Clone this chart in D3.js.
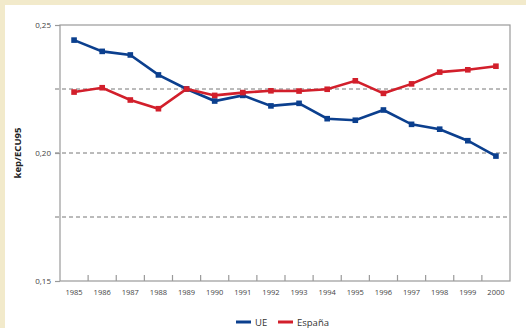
<!DOCTYPE html>
<html><head><meta charset="utf-8">
<script src="https://cdn.jsdelivr.net/npm/d3@7"></script>
<style>body{margin:0;background:#f2eacb;}svg{display:block;}</style>
</head><body>
<svg id="c" width="526" height="328"></svg>
<script>
const years = ["1985","1986","1987","1988","1989","1990","1991","1992","1993","1994","1995","1996","1997","1998","1999","2000"];
const ue = [0.2441,0.2397,0.2383,0.2305,0.2250,0.2203,0.2225,0.2184,0.2194,0.2134,0.2128,0.2168,0.2112,0.2093,0.2048,0.1988];
const espana = [0.2238,0.2255,0.2207,0.2173,0.2250,0.2225,0.2236,0.2243,0.2242,0.2249,0.2282,0.2233,0.2270,0.2316,0.2325,0.2339];
const yTicks = [0.15,0.20,0.25];
const gridVals = [0.175,0.20,0.225];
const seriesNames = ["UE","España"];
const colors = ["#0b3f8e","#d21f2b"];

const svg = d3.select("#c");
svg.append("rect").attr("x",0).attr("y",0).attr("width",526).attr("height",328).attr("fill","#f2eacb");
svg.append("rect").attr("x",5).attr("y",5).attr("width",521).attr("height",323).attr("fill","#fff");

const L=60,R=510,T=25,B=281;
const x = d3.scaleBand().domain(years).range([L,R]);
const y = d3.scaleLinear().domain([0.15,0.25]).range([B,T]);

// gridlines
svg.append("g").selectAll("line").data(gridVals).join("line")
  .attr("x1",55).attr("x2",R).attr("y1",d=>y(d)).attr("y2",d=>y(d))
  .attr("stroke","#777").attr("stroke-width",1).attr("stroke-dasharray","4,3");

// frame
svg.append("rect").attr("x",L).attr("y",T).attr("width",R-L).attr("height",B-T)
  .attr("fill","none").attr("stroke","#9a9a9a").attr("stroke-width",1.2);

// y axis
const fmt = d=>d3.format(".2f")(d).replace(".",",");
const ya = svg.append("g").attr("transform",`translate(${L},0)`)
  .call(d3.axisLeft(y).tickValues(yTicks).tickSize(5).tickFormat(fmt));
ya.select(".domain").remove();
ya.selectAll(".tick line").attr("stroke","#9a9a9a").attr("stroke-width",1.2);
ya.selectAll(".tick text").attr("font-family","Open Sans, sans-serif").attr("font-size",8).attr("fill","#444").attr("dx",-1);

// x axis
const xa = svg.append("g").attr("transform",`translate(0,${B})`)
  .call(d3.axisBottom(x).tickSize(0).tickPadding(9));
xa.select(".domain").remove();
xa.selectAll(".tick text").attr("font-family","Open Sans, sans-serif").attr("font-size",7.5).attr("fill","#444");
svg.append("g").selectAll("line").data(years.slice(1)).join("line")
  .attr("x1",d=>x(d)).attr("x2",d=>x(d)).attr("y1",B).attr("y2",B-6)
  .attr("stroke","#9a9a9a").attr("stroke-width",1.2);

// y label
svg.append("text").attr("transform",`translate(21,${y(0.20)}) rotate(-90)`)
  .attr("text-anchor","middle").attr("font-family","Open Sans, sans-serif")
  .attr("font-weight","bold").attr("font-size",9.5).attr("fill","#222").text("kep/ECU95");

// series
const data = [ue, espana];
const line = d3.line().x((d,i)=>x(years[i])+x.bandwidth()/2).y(d=>y(d));
data.forEach((s,k)=>{
  const g = svg.append("g");
  g.append("path").attr("d",line(s)).attr("fill","none").attr("stroke",colors[k]).attr("stroke-width",2.6);
  g.selectAll("rect").data(s).join("rect")
    .attr("x",(d,i)=>x(years[i])+x.bandwidth()/2-2.8).attr("y",d=>y(d)-2.8)
    .attr("width",5.6).attr("height",5.6).attr("fill",colors[k]);
});

// legend
const legX=[236,278];
seriesNames.forEach((n,k)=>{
  svg.append("line").attr("x1",legX[k]).attr("x2",legX[k]+15).attr("y1",322).attr("y2",322)
    .attr("stroke",colors[k]).attr("stroke-width",3);
  svg.append("text").attr("x",legX[k]+19).attr("y",325.5).attr("font-family","Open Sans, sans-serif")
    .attr("font-size",9.5).attr("fill","#333").text(n);
});
</script>
</body></html>
